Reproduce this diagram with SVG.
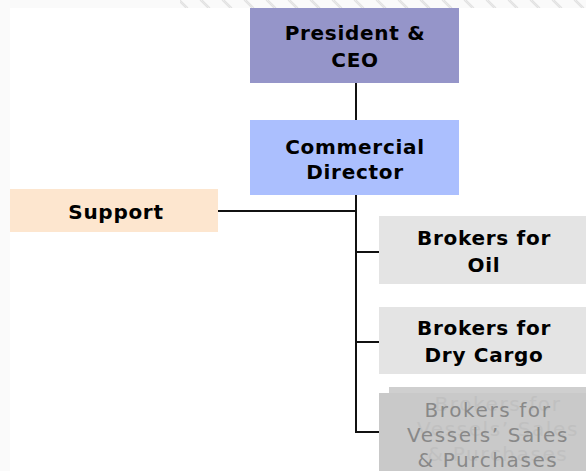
<svg xmlns="http://www.w3.org/2000/svg" width="586" height="471" viewBox="0 0 586 471">
  <defs>
    <pattern id="hatch" width="22" height="8" patternUnits="userSpaceOnUse">
      <path d="M2,0 L10,8 M4,0 L12,8" stroke="#e2e2e2" stroke-width="1.2"/>
    </pattern>
    <style>
      .box-label { font-family: "DejaVu Sans", Verdana, sans-serif; font-weight: bold; font-size: 20px; letter-spacing: 0.7px; fill: #000; text-anchor: middle; }
      .dim-label { font-family: "DejaVu Sans", Verdana, sans-serif; font-size: 20px; letter-spacing: 1.6px; fill: #888; text-anchor: middle; }
      .ghost-label { font-family: "DejaVu Sans", Verdana, sans-serif; font-size: 20px; letter-spacing: 1.6px; fill: #c0c0c0; text-anchor: middle; }
      .link { stroke: #111; stroke-width: 2; fill: none; }
    </style>
  </defs>

  <!-- page backdrop -->
  <rect x="0" y="0" width="586" height="471" fill="#ffffff"/>
  <rect x="0" y="0" width="586" height="8" fill="#fafafa"/>
  <rect x="0" y="0" width="10" height="471" fill="#fafafa"/>
  <rect x="180" y="0" width="406" height="8" fill="url(#hatch)"/>

  <!-- connectors -->
  <g id="connectors">
    <line class="link" x1="356" y1="83" x2="356" y2="120"/>
    <polyline class="link" points="356,195 356,432 379,432"/>
    <line class="link" x1="218" y1="211" x2="356" y2="211"/>
    <line class="link" x1="356" y1="252" x2="379" y2="252"/>
    <line class="link" x1="356" y1="342" x2="379" y2="342"/>
  </g>

  <g id="president">
    <rect x="250" y="8" width="209" height="75" fill="#9595c9"/>
    <text class="box-label" x="355" y="40">President &amp;</text>
    <text class="box-label" x="355" y="67">CEO</text>
  </g>

  <g id="commercial-director">
    <rect x="250" y="120" width="209" height="75" fill="#abbffe"/>
    <text class="box-label" x="355" y="154">Commercial</text>
    <text class="box-label" x="355" y="179">Director</text>
  </g>

  <g id="support">
    <rect x="10" y="189" width="208" height="43" fill="#fde6cf"/>
    <text class="box-label" x="116" y="219">Support</text>
  </g>

  <g id="brokers-oil">
    <rect x="379" y="216" width="207" height="68" fill="#e4e4e4"/>
    <text class="box-label" x="484" y="245">Brokers for</text>
    <text class="box-label" x="484" y="272">Oil</text>
  </g>

  <g id="brokers-dry-cargo">
    <rect x="379" y="307" width="207" height="67" fill="#e4e4e4"/>
    <text class="box-label" x="484" y="335">Brokers for</text>
    <text class="box-label" x="484" y="362">Dry Cargo</text>
  </g>

  <g id="brokers-vessels">
    <!-- offset back layer with its faint copy of the label -->
    <rect x="389" y="387" width="197" height="84" fill="#cfcfcf"/>
    <rect x="379" y="393" width="207" height="78" fill="#c9c9c9"/>
    <text class="ghost-label" x="498" y="411">Brokers for</text>
    <text class="ghost-label" x="498" y="436">Vessels’ Sales</text>
    <text class="ghost-label" x="498" y="461">&amp; Purchases</text>
    <text class="dim-label" x="488" y="417">Brokers for</text>
    <text class="dim-label" x="488" y="442">Vessels’ Sales</text>
    <text class="dim-label" x="488" y="467">&amp; Purchases</text>
  </g>
</svg>
